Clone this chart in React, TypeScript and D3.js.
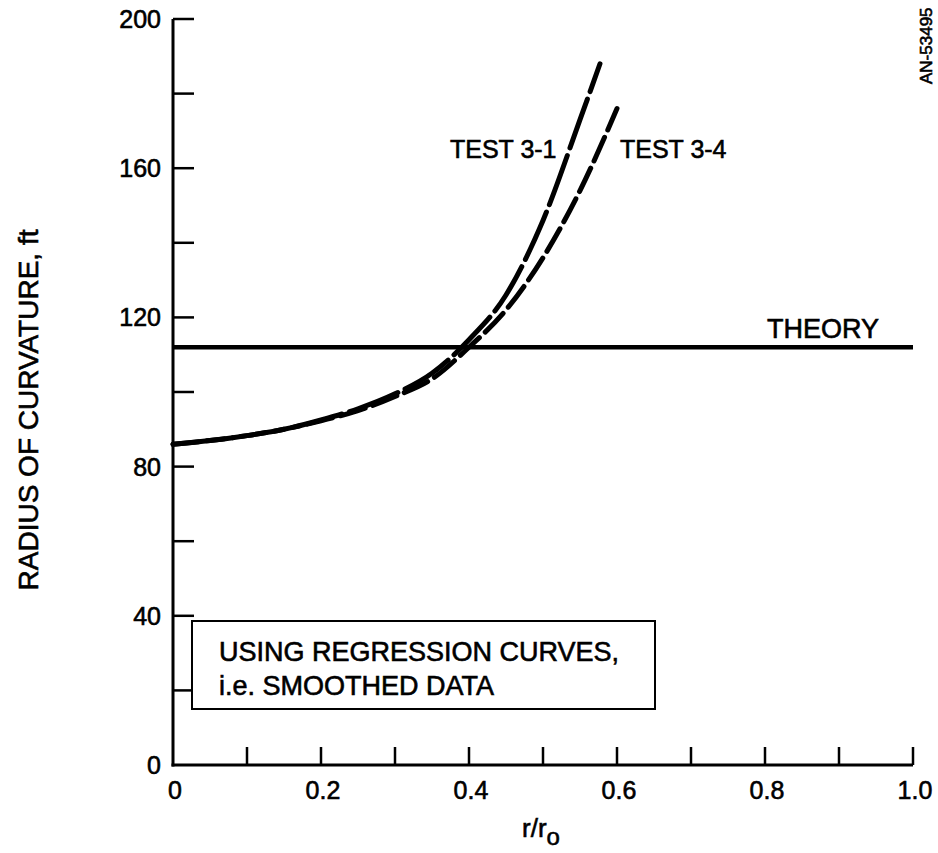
import React from "react";
import * as d3 from "d3";

const xTicks = [0, 0.1, 0.2, 0.3, 0.4, 0.5, 0.6, 0.7, 0.8, 0.9, 1.0];
const xTickLabels = ["0", "", "0.2", "", "0.4", "", "0.6", "", "0.8", "", "1.0"];
const yTicks = [0, 20, 40, 60, 80, 100, 120, 140, 160, 180, 200];
const yTickLabels = ["0", "", "40", "", "80", "", "120", "", "160", "", "200"];

const test31R = [0, 0.05, 0.1, 0.15, 0.2, 0.25, 0.3, 0.35, 0.4, 0.45, 0.5, 0.55, 0.577];
const test31V = [86, 87, 88.3, 90, 92.5, 95.5, 99.5, 105, 114, 126, 146, 173, 188];
const test34R = [0, 0.05, 0.1, 0.15, 0.2, 0.25, 0.3, 0.35, 0.4, 0.45, 0.5, 0.55, 0.6];
const test34V = [86, 87, 88.3, 90, 92.3, 95, 98.8, 103.5, 112, 122, 136, 154, 176];
const theoryValue = 112;

const W = 938;
const H = 853;

export default function App() {
  const x = d3.scaleLinear().domain([0, 1]).range([173, 913]);
  const y = d3.scaleLinear().domain([0, 200]).range([765, 19]);
  const line = d3
    .line<[number, number]>()
    .x((d) => x(d[0]))
    .y((d) => y(d[1]))
    .curve(d3.curveMonotoneX);
  const d31 = line(test31R.map((r, i) => [r, test31V[i]]) as [number, number][]) || "";
  const d34 = line(test34R.map((r, i) => [r, test34V[i]]) as [number, number][]) || "";
  const font = "'Liberation Sans', Arial, Helvetica, sans-serif";
  const ts = { fill: "#000", stroke: "#000", strokeWidth: 0.6 } as const;

  return (
    <svg
      width={W}
      height={H}
      style={{ position: "absolute", left: 0, top: 0, background: "#fff" }}
      fontFamily={font}
    >
      <rect x={0} y={0} width={W} height={H} fill="#fff" />
      {/* axes */}
      <line x1={x(0)} x2={x(0)} y1={y(200)} y2={y(0) + 1.5} stroke="#000" strokeWidth={3} />
      <line x1={x(0) - 1.5} x2={x(1)} y1={y(0)} y2={y(0)} stroke="#000" strokeWidth={3} />
      {yTicks.slice(1).map((t) => (
        <line key={"yt" + t} x1={x(0)} x2={x(0) + 21} y1={y(t)} y2={y(t)} stroke="#000" strokeWidth={2.5} />
      ))}
      {xTicks.slice(1).map((t) => (
        <line key={"xt" + t} x1={x(t)} x2={x(t)} y1={y(0)} y2={y(0) - 18} stroke="#000" strokeWidth={2.5} />
      ))}
      {yTicks.map((t, i) =>
        yTickLabels[i] ? (
          <text key={"yl" + t} x={161} y={y(t) + 9} textAnchor="end" fontSize={25} {...ts}>
            {yTickLabels[i]}
          </text>
        ) : null
      )}
      {xTicks.map((t, i) =>
        xTickLabels[i] ? (
          <text key={"xl" + t} x={x(t) + 2} y={799} textAnchor="middle" fontSize={25} {...ts}>
            {xTickLabels[i]}
          </text>
        ) : null
      )}
      {/* axis titles */}
      <text transform={`translate(38,410) rotate(-90)`} textAnchor="middle" fontSize={28} {...ts}>
        RADIUS OF CURVATURE, ft
      </text>
      <text x={522} y={837} fontSize={26} {...ts}>
        r/r
        <tspan fontSize={24} dy={8}>o</tspan>
      </text>

      {/* theory */}
      <line x1={x(0)} x2={x(1)} y1={y(theoryValue)} y2={y(theoryValue)} stroke="#000" strokeWidth={4.5} />
      <text x={767} y={338} fontSize={27} {...ts}>THEORY</text>

      {/* curves */}
      <path d={d34} fill="none" stroke="#000" strokeWidth={5} strokeDasharray="26 8" strokeLinecap="round" />
      <path d={d31} fill="none" stroke="#000" strokeWidth={5} strokeDasharray="52 8" strokeLinecap="round" />
      <text x={450} y={158} fontSize={25} {...ts}>TEST 3-1</text>
      <text x={620} y={158} fontSize={25} {...ts}>TEST 3-4</text>

      {/* note box */}
      <rect x={192} y={621} width={463} height={88} fill="#fff" stroke="#000" strokeWidth={2} />
      <text x={219} y={661} fontSize={27} {...ts}>USING REGRESSION CURVES,</text>
      <text x={219} y={695} fontSize={27} {...ts}>i.e. SMOOTHED DATA</text>

      {/* stamp */}
      <text transform={`translate(932,84) rotate(-90)`} fontSize={17} {...ts}>AN-53495</text>
    </svg>
  );
}
